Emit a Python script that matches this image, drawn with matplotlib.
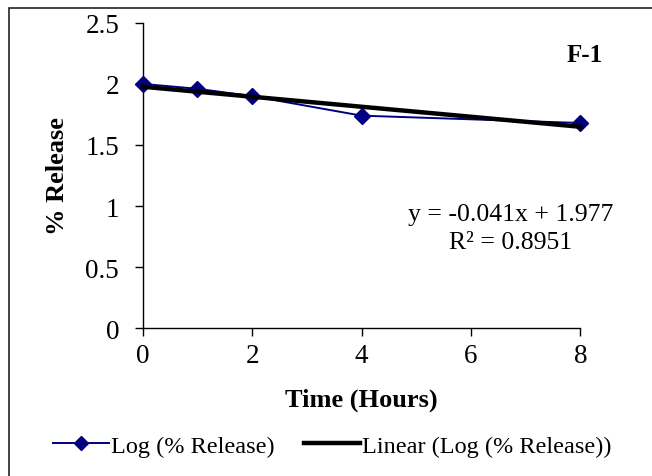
import numpy as np
import matplotlib.pyplot as plt
from matplotlib.patches import Rectangle
from matplotlib.lines import Line2D

# release data (log scale values)
time_hours = [0, 1, 2, 4, 8]
log_release = [2.00, 1.96, 1.90, 1.74, 1.68]

# trendline from the chart label
slope = -0.041
intercept = 1.977
r_squared = 0.8951

x_ticks = [0, 2, 4, 6, 8]
y_ticks = [0, 0.5, 1, 1.5, 2, 2.5]
y_tick_labels = ['0', '0.5', '1', '1.5', '2', '2.5']

plt.rcParams['font.family'] = ['Liberation Serif', 'DejaVu Serif']

fig = plt.figure(figsize=(6.52, 4.77), dpi=100)
ax = fig.add_axes([0.219, 0.310, 0.671, 0.640])

navy = '#000080'
ax.plot(time_hours, log_release, color=navy, lw=1.4, marker='D', ms=8.5,
        markerfacecolor=navy, markeredgecolor=navy, clip_on=False, zorder=3)

trend_x = np.array([time_hours[0], time_hours[-1]])
trend_y = slope * trend_x + intercept
ax.plot(trend_x, trend_y, color='black', lw=3.2, clip_on=False, zorder=4)

ax.set_xlim(0, 8)
ax.set_ylim(0, 2.5)
ax.set_xticks(x_ticks)
ax.set_yticks(y_ticks)
ax.set_yticklabels(y_tick_labels)
for s in ['top', 'right']:
    ax.spines[s].set_visible(False)
for s in ['left', 'bottom']:
    ax.spines[s].set_linewidth(1.0)
ax.tick_params(axis='y', direction='out', length=6, width=1, pad=11, labelsize=19.5)
ax.tick_params(axis='x', direction='out', length=6, width=1, pad=5, labelsize=19.5)

ax.set_xlabel('Time (Hours)', fontsize=19, fontweight='bold', labelpad=14)
ax.set_ylabel('% Release', fontsize=19, fontweight='bold', labelpad=12)

ax.text(0.84, 0.374, f'y = {slope}x + {intercept}', transform=ax.transAxes,
        ha='center', va='center', fontsize=18.5)
ax.text(0.84, 0.282, f'R² = {r_squared}', transform=ax.transAxes,
        ha='center', va='center', fontsize=18.5)
ax.text(1.011, 0.895, 'F-1', transform=ax.transAxes, ha='center', va='center',
        fontsize=18, fontweight='bold')

handles = [
    Line2D([], [], color=navy, lw=1.4, marker='D', ms=7.5),
    Line2D([], [], color='black', lw=3.2),
]
fig.legend(handles, ['Log (% Release)', 'Linear (Log (% Release))'],
           loc='center', bbox_to_anchor=(0.51, 0.063), ncol=2, frameon=False,
           fontsize=17.5, handlelength=2.3, handletextpad=0.1, columnspacing=1.2)

# outer chart border (cropped at right and bottom)
fig.patches.append(Rectangle((9 / 652, -0.05), 1.2, 1.05 - 9 / 477,
                             transform=fig.transFigure, fill=False,
                             edgecolor='#222222', lw=1.2))

fig.savefig('out.png', dpi=100)
